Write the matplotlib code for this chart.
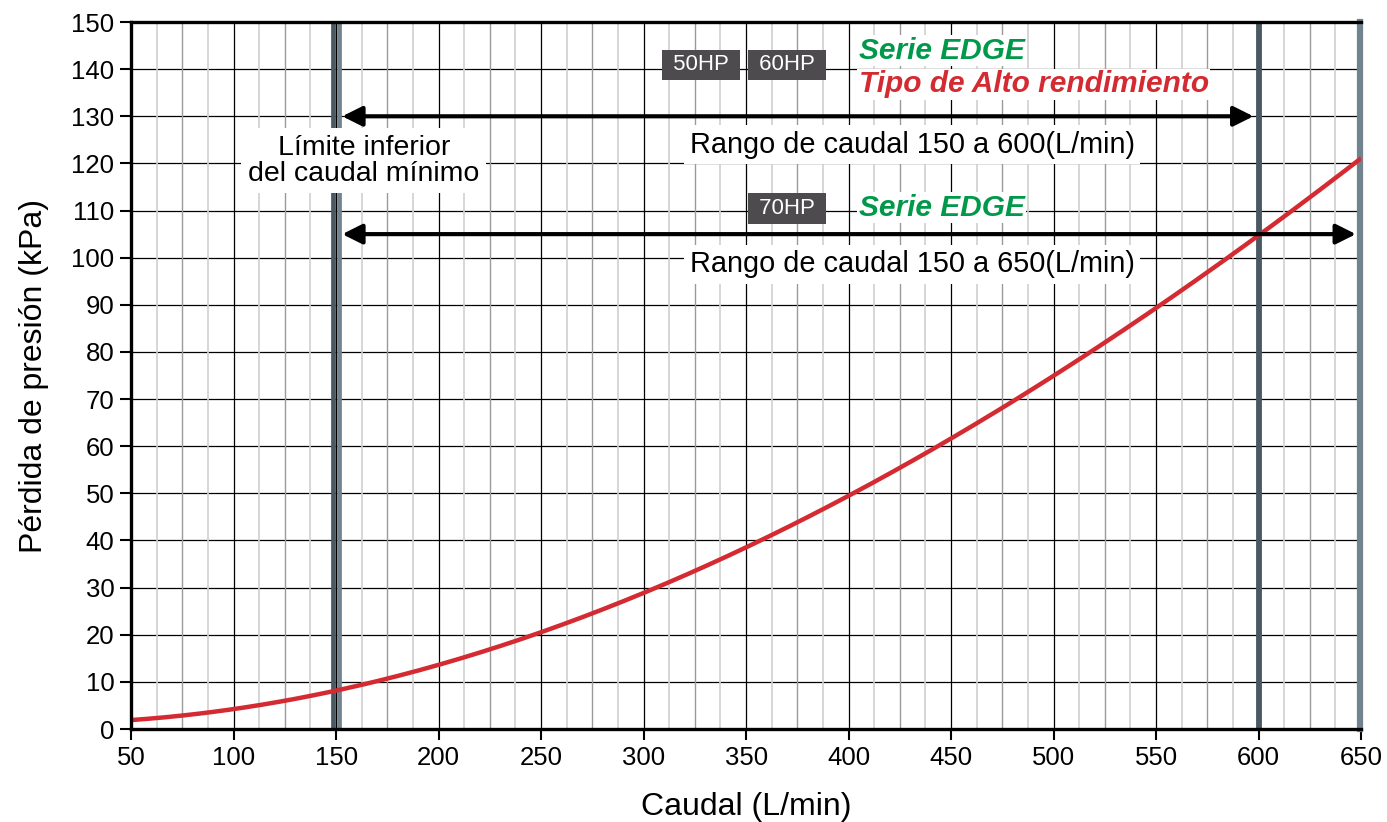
import numpy as np
import matplotlib
matplotlib.use("Agg")
import matplotlib.pyplot as plt

plt.rcParams['font.family'] = ['Liberation Sans', 'DejaVu Sans']

# Pressure loss curve
flow = [50, 100, 150, 200, 250, 300, 350, 400, 450, 500, 550, 600, 650]
loss = [1.7, 4.4, 8.3, 13.7, 20.5, 28.9, 38.4, 49.3, 61.5, 75.0, 89.6, 105.0, 120.8]

# Flow range markers
min_flow = 150
max_flow_a = 600
max_flow_b = 650

x_ticks = list(range(50, 651, 50))
y_ticks = list(range(0, 151, 10))

red = '#d42a31'
green = '#00994a'
dark_bar = '#4a5862'
light_bar = '#71838e'
box_gray = '#4d4b4d'

fig = plt.figure(figsize=(13.87, 8.22), dpi=100)
ax = fig.add_axes([0.0945, 0.1131, 0.8868, 0.8601])

ax.set_xlim(50, 650)
ax.set_ylim(0, 150)

# grid
for y in y_ticks[1:]:
    ax.axhline(y, color='black', lw=0.9, zorder=1)
for x in np.arange(50, 651, 12.5):
    if x % 50 == 0:
        ax.axvline(x, color='black', lw=0.9, zorder=1)
    elif x % 25 == 0:
        ax.axvline(x, color='#9a9a9a', lw=1.0, zorder=1)
    else:
        ax.axvline(x, color='#d0d0d0', lw=1.2, zorder=1)

# smooth curve through read points
xs = np.linspace(flow[0], flow[-1], 300)
coef = np.polyfit(flow, loss, 3)
ax.plot(xs, np.polyval(coef, xs), color=red, lw=3.2, zorder=5, solid_capstyle='butt')

# vertical limit bars
ax.axvline(min_flow - 1.5, color=dark_bar, lw=3.4, zorder=4)
ax.axvline(min_flow + 1.5, color=light_bar, lw=3.4, zorder=4)
ax.axvline(max_flow_a, color=dark_bar, lw=4.2, zorder=4)
ax.axvline(max_flow_b - 0.7, color=light_bar, lw=4.5, zorder=4, clip_on=False)

# range arrows
arrow_kw = dict(arrowstyle='<|-|>', color='black', lw=3, mutation_scale=30, shrinkA=0, shrinkB=0)
ax.annotate('', xy=(min_flow + 3, 130), xytext=(max_flow_a - 2.5, 130), arrowprops=arrow_kw, zorder=6)
ax.annotate('', xy=(min_flow + 3, 105), xytext=(max_flow_b - 2.5, 105), arrowprops=arrow_kw, zorder=6)

white = dict(facecolor='white', edgecolor='none', pad=4)
ax.text(431, 124.0, 'Rango de caudal 150 a 600(L/min)', fontsize=20.8, ha='center', va='center',
        bbox=white, zorder=7)
ax.text(431, 98.6, 'Rango de caudal 150 a 650(L/min)', fontsize=20.8, ha='center', va='center',
        bbox=white, zorder=7)
ax.text(163.5, 120.6, 'Límite inferior\ndel caudal mínimo', fontsize=20.5, ha='center', va='center',
        linespacing=1.0, bbox=dict(facecolor='white', edgecolor='none', pad=5), zorder=7)

hp_box = dict(facecolor=box_gray, edgecolor='none', boxstyle='square,pad=0.22')
ax.text(328, 140.9, ' 50HP ', fontsize=16, color='white', ha='center', va='center', bbox=hp_box, zorder=7)
ax.text(370, 140.9, ' 60HP ', fontsize=16, color='white', ha='center', va='center', bbox=hp_box, zorder=7)
ax.text(370, 110.4, ' 70HP ', fontsize=16, color='white', ha='center', va='center', bbox=hp_box, zorder=7)

tag = dict(facecolor='white', edgecolor='none', pad=1)
ax.text(405, 143.9, 'Serie EDGE', fontsize=21.5, color=green, fontweight='bold', style='italic',
        ha='left', va='center', bbox=tag, zorder=7)
ax.text(405, 136.8, 'Tipo de Alto rendimiento', fontsize=21.5, color=red, fontweight='bold', style='italic',
        ha='left', va='center', bbox=tag, zorder=7)
ax.text(405, 110.6, 'Serie EDGE', fontsize=21.5, color=green, fontweight='bold', style='italic',
        ha='left', va='center', bbox=tag, zorder=7)

# axes styling
ax.spines['right'].set_visible(False)
for s in ['left', 'bottom', 'top']:
    ax.spines[s].set_linewidth(2.4)
    ax.spines[s].set_zorder(8)
ax.set_xticks(x_ticks)
ax.set_yticks(y_ticks)
ax.tick_params(axis='both', direction='out', length=8, width=1.5, labelsize=18.5, pad=4)
ax.set_xlabel('Caudal (L/min)', fontsize=23, labelpad=16)
ax.set_ylabel('Pérdida de presión (kPa)', fontsize=23, labelpad=16)

fig.savefig('out.png', dpi=100)
